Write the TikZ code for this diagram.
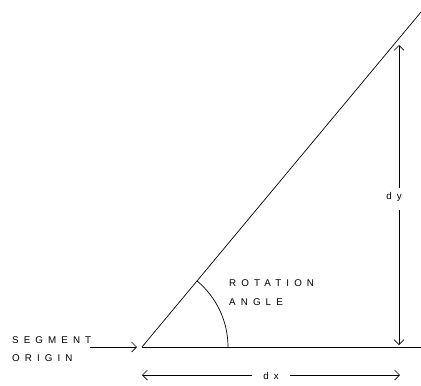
\documentclass[tikz,border=0pt]{standalone}
\usepackage{fontspec}
\setmainfont{Liberation Sans}
\usetikzlibrary{arrows.meta,calc}
\newfontfamily\spacedfont[LetterSpace=52]{Liberation Sans}
\begin{document}
\begin{tikzpicture}[x=1pt,y=-1pt,
  ln/.style={line width=0.7pt,black},
  arr/.style={ln,-{Straight Barb[length=5pt,width=10pt]}},
  lbl/.style={font=\spacedfont\fontsize{9.8}{11}\selectfont,inner sep=0pt,anchor=west,align=left}]
\useasboundingbox (0,0) rectangle (421,386);
\coordinate (O) at (142,347);
\coordinate (R) at (421,347);
\coordinate (T) at (421,12);
\draw[ln] (O) -- (R);
\draw[ln] (O) -- (T);
\draw[ln] ($(O)+(86,0)$) arc[start angle=0,end angle=-50.2,radius=86];
% rotation angle label
\node[lbl] (rot) at (229,283) {ROTATION};
\node[lbl] (ang) at (229,302) {ANGLE};
% segment origin
\node[lbl] (seg) at (12,340) {SEGMENT};
\node[lbl] (ori) at (12,358) {ORIGIN};
\coordinate (segS) at (90,347);
\coordinate (segE) at (137,347);
\draw[arr] (segS) -- (segE);
% dy
\node[lbl,anchor=center] (dy) at (394,197) {dy};
\coordinate (dyT) at (399,45);
\coordinate (dyB) at (399,345);
\draw[arr] (399,188) -- (dyT);
\draw[arr] (399,210) -- (dyB);
% dx
\node[lbl,anchor=center] (dx) at (271,376) {dx};
\coordinate (dxL) at (142,375);
\coordinate (dxR) at (400,375);
\draw[arr] (252,375) -- (dxL);
\draw[arr] (290,375) -- (dxR);
\end{tikzpicture}
\end{document}
